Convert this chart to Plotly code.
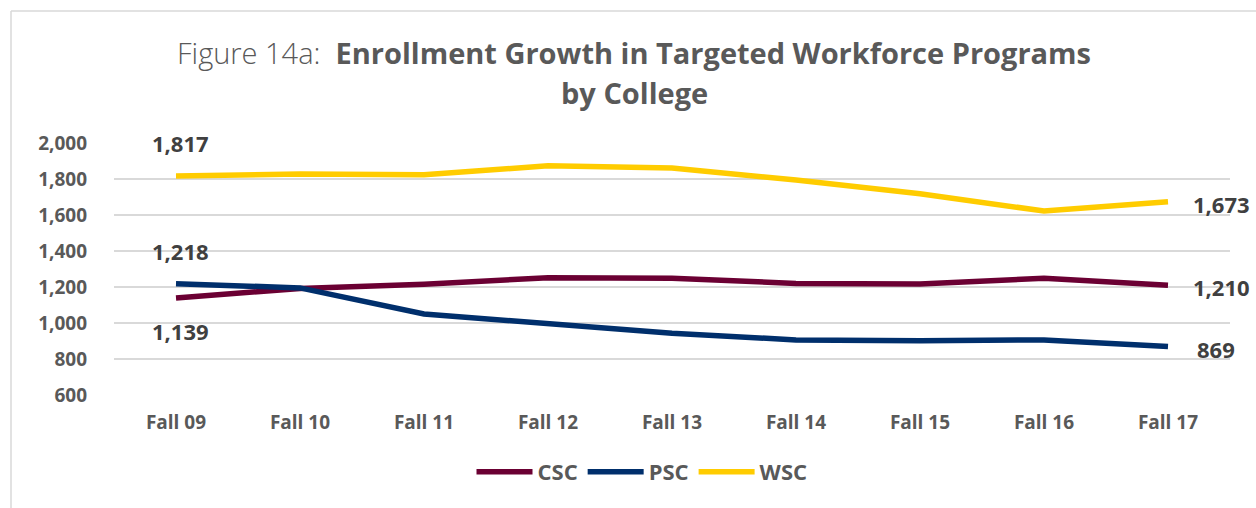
import plotly.graph_objects as go

# Enrollment in targeted workforce programs, by college and fall term
terms = ["Fall 09", "Fall 10", "Fall 11", "Fall 12", "Fall 13",
         "Fall 14", "Fall 15", "Fall 16", "Fall 17"]
csc = [1139, 1192, 1215, 1252, 1248, 1220, 1217, 1248, 1210]
psc = [1218, 1195, 1050, 994, 943, 906, 902, 906, 869]
wsc = [1817, 1828, 1823, 1874, 1861, 1794, 1718, 1622, 1673]

y_ticks = [600, 800, 1000, 1200, 1400, 1600, 1800, 2000]

FONT = "Open Sans, Century Gothic, sans-serif"
TEXT = "#595959"
LABEL = "#404040"

W, H = 1256, 508
L, R, T, B = 114, 26, 143, 113
plot_w = W - L - R
plot_h = H - T - B


def px_to_paper_x(px):
    return (px - L) / plot_w


def px_to_paper_y(py):
    return (H - B - py) / plot_h


series = [
    ("CSC", csc, "#6b0033"),
    ("PSC", psc, "#002f6c"),
    ("WSC", wsc, "#ffcc00"),
]

fig = go.Figure()
for name, vals, color in series:
    fig.add_trace(go.Scatter(
        x=terms, y=vals, name=f"<b>{name}</b>", mode="lines",
        line=dict(color=color, width=5.5),
        hovertemplate=f"{name}<br>%{{x}}: %{{y:,}}<extra></extra>",
    ))

annotations = []

# value labels at the first term
first_labels = [(wsc[0], -33), (psc[0], -33), (csc[0], 33)]
for v, dy in first_labels:
    annotations.append(dict(
        x=terms[0], y=v, xref="x", yref="y", text=f"<b>{v:,}</b>",
        showarrow=False, xshift=4, yshift=-dy,
        font=dict(family=FONT, size=22, color=LABEL),
    ))

# value labels at the last term
for vals, xs in [(wsc, 53), (csc, 53), (psc, 48)]:
    v = vals[-1]
    annotations.append(dict(
        x=terms[-1], y=v, xref="x", yref="y", text=f"<b>{v:,}</b>",
        showarrow=False, xshift=xs, yshift=-2,
        font=dict(family=FONT, size=22, color=LABEL),
    ))

# two-line title
annotations.append(dict(
    x=px_to_paper_x(634), y=px_to_paper_y(53), xref="paper", yref="paper",
    text="<span style='font-weight:300'>Figure 14a:</span>  <b>Enrollment Growth in Targeted Workforce Programs</b>",
    showarrow=False, xanchor="center", yanchor="middle",
    font=dict(family=FONT, size=29, color=TEXT),
))
annotations.append(dict(
    x=px_to_paper_x(634), y=px_to_paper_y(92), xref="paper", yref="paper",
    text="<b>by College</b>",
    showarrow=False, xanchor="center", yanchor="middle",
    font=dict(family=FONT, size=29, color=TEXT),
))

# chart frame (top and left edges)
frame = "#d9d9d9"
shapes = [
    dict(type="line", xref="paper", yref="paper",
         x0=px_to_paper_x(11), x1=px_to_paper_x(W + 10),
         y0=px_to_paper_y(11), y1=px_to_paper_y(11),
         line=dict(color=frame, width=1.5)),
    dict(type="line", xref="paper", yref="paper",
         x0=px_to_paper_x(11), x1=px_to_paper_x(11),
         y0=px_to_paper_y(11), y1=px_to_paper_y(H + 10),
         line=dict(color=frame, width=1.5)),
]

fig.update_layout(
    width=W, height=H,
    margin=dict(l=L, r=R, t=T, b=B, pad=0),
    paper_bgcolor="white", plot_bgcolor="white",
    font=dict(family=FONT, color=TEXT),
    showlegend=True,
    legend=dict(
        orientation="h", x=px_to_paper_x(642), xanchor="center",
        y=px_to_paper_y(472), yanchor="middle",
        font=dict(family=FONT, size=22, color=TEXT),
        itemwidth=56, tracegroupgap=0,
    ),
    annotations=annotations,
    shapes=shapes,
    xaxis=dict(
        range=[-0.5, len(terms) - 0.5],
        showgrid=False, zeroline=False, showline=False,
        ticks="", ticklabelstandoff=14,
        tickfont=dict(family=FONT, size=19, color=TEXT),
        tickprefix="<b>", ticksuffix="</b>",
    ),
    yaxis=dict(
        range=[600, 2000], tickvals=y_ticks,
        ticktext=[f"<b>{v:,}</b>" for v in y_ticks],
        showgrid=True, gridcolor="#d9d9d9", gridwidth=1.5,
        zeroline=False, showline=False, ticks="",
        ticklabelstandoff=26,
        tickfont=dict(family=FONT, size=19, color=TEXT),
    ),
)

fig.write_html("out.html")
